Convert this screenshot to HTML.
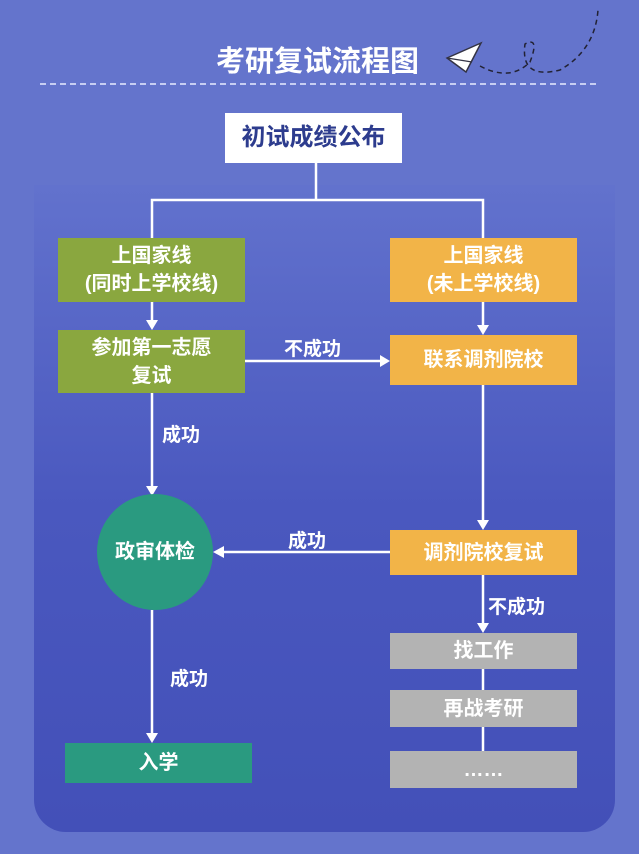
<!DOCTYPE html>
<html><head><meta charset="utf-8"><style>
body{margin:0;width:639px;height:854px;overflow:hidden;background:#6474cc;font-family:"Liberation Sans","Noto Sans CJK SC",sans-serif;}
.p{position:absolute;left:34px;top:185px;width:581px;height:647px;border-radius:0 0 32px 32px;background:linear-gradient(#6272cd,#4a58bf 50%,#4350b8);}
.b{position:absolute;display:flex;align-items:center;justify-content:center;text-align:center;color:#fff;font-weight:bold;font-size:20px;line-height:28px;}
.g{background:#8aa73f}.o{background:#f2b448}.gr{background:#b3b3b3}.t{background:#2a9a80}
.l{position:absolute;color:#fff;font-weight:bold;font-size:19px;}
</style></head><body>
<div class="p"></div>
<div class="l" style="left:216px;top:38px;font-size:29px;letter-spacing:0px">考研复试流程图</div>
<svg style="position:absolute;left:0;top:0" width="639" height="854">
<line x1="40" y1="84" x2="600" y2="84" stroke="#e8ecff" stroke-width="1.5" stroke-dasharray="6,4"/>
<polygon points="447,58 481,43 466,72" fill="#fff" stroke="#334" stroke-width="1.5"/>
<line x1="447" y1="58" x2="472" y2="62" stroke="#334" stroke-width="1.2"/>
<path d="M480,66 Q510,82 530,62 Q540,36 525,44 Q520,80 560,70 Q595,50 598,10" fill="none" stroke="#223" stroke-width="1.5" stroke-dasharray="5,4"/>
<g stroke="#fff" stroke-width="2.5" fill="none">
<line x1="316" y1="163" x2="316" y2="200"/><polyline points="152,238 152,200 483,200 483,238"/>
<line x1="152" y1="302" x2="152" y2="322"/><line x1="483" y1="302" x2="483" y2="327"/>
<line x1="245" y1="361" x2="382" y2="361"/>
<line x1="152" y1="393" x2="152" y2="488"/>
<line x1="483" y1="385" x2="483" y2="522"/>
<line x1="390" y1="552" x2="222" y2="552"/>
<line x1="483" y1="575" x2="483" y2="625"/>
<line x1="483" y1="668" x2="483" y2="751"/>
<line x1="152" y1="610" x2="152" y2="735"/>
</g>
<g fill="#fff">
<polygon points="146,320 158,320 152,330"/><polygon points="477,325 489,325 483,335"/>
<polygon points="380,355 380,367 390,361"/><polygon points="146,486 158,486 152,496"/>
<polygon points="477,520 489,520 483,530"/><polygon points="224,546 224,558 213,552"/>
<polygon points="477,623 489,623 483,633"/><polygon points="146,733 158,733 152,743"/>
</g>
<circle cx="155" cy="552" r="58" fill="#2a9a80"/>
</svg>
<div class="b" style="left:225px;top:113px;width:177px;height:50px;background:#fff;color:#2d3c8e;font-size:24px">初试成绩公布</div>
<div class="b g" style="left:58px;top:238px;width:187px;height:64px">上国家线<br>(同时上学校线)</div>
<div class="b o" style="left:390px;top:238px;width:187px;height:64px">上国家线<br>(未上学校线)</div>
<div class="b g" style="left:58px;top:330px;width:187px;height:63px">参加第一志愿<br>复试</div>
<div class="b o" style="left:390px;top:335px;width:187px;height:50px">联系调剂院校</div>
<div class="b" style="left:97px;top:494px;width:116px;height:116px">政审体检</div>
<div class="b o" style="left:390px;top:530px;width:187px;height:45px">调剂院校复试</div>
<div class="b gr" style="left:390px;top:633px;width:187px;height:36px">找工作</div>
<div class="b gr" style="left:390px;top:690px;width:187px;height:37px">再战考研</div>
<div class="b gr" style="left:390px;top:751px;width:187px;height:37px">……</div>
<div class="b t" style="left:65px;top:743px;width:187px;height:40px">入学</div>
<div class="l" style="left:284px;top:334px">不成功</div>
<div class="l" style="left:162px;top:420px">成功</div>
<div class="l" style="left:288px;top:526px">成功</div>
<div class="l" style="left:488px;top:592px">不成功</div>
<div class="l" style="left:170px;top:664px">成功</div>
</body></html>
